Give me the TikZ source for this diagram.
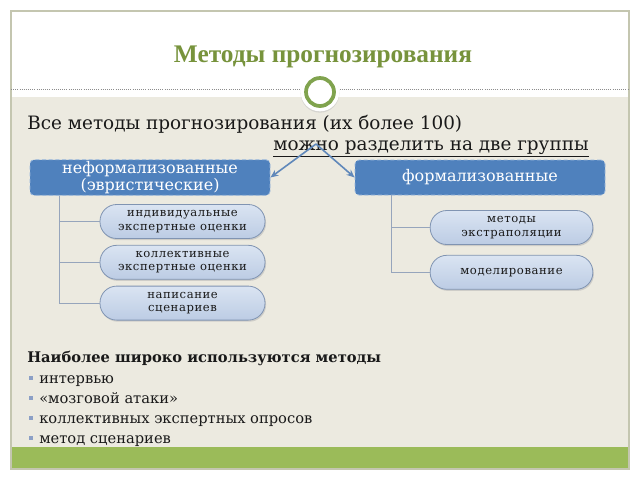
\documentclass[tikz,border=0pt]{standalone}
\usepackage{fontspec}
\setmainfont{DejaVu Serif}
\newfontfamily\titlefont{Liberation Serif}
\newfontfamily\pillfont[LetterSpace=5]{DejaVu Serif}
\usetikzlibrary{positioning, calc, shadows, arrows.meta}

\definecolor{SlideFrame}{RGB}{196,198,176}
\definecolor{SlideBeige}{RGB}{236,234,224}
\definecolor{SlideGreen}{RGB}{155,187,89}
\definecolor{TitleGreen}{RGB}{119,147,60}
\definecolor{RingGreen}{RGB}{128,163,78}
\definecolor{GroupBlue}{RGB}{79,129,189}
\definecolor{GroupEdge}{RGB}{150,182,220}
\definecolor{PillTop}{RGB}{218,228,242}
\definecolor{PillBottom}{RGB}{188,204,228}
\definecolor{PillEdge}{RGB}{128,148,178}
\definecolor{TreeGray}{RGB}{150,165,188}
\definecolor{ArrowBlue}{RGB}{96,136,186}
\definecolor{BulletBlue}{RGB}{140,160,198}
\definecolor{TextDark}{RGB}{25,25,25}

\tikzset{
  heading/.style={
    font=\titlefont\bfseries\fontsize{19}{22}\selectfont, text=TitleGreen
  },
  lead/.style={
    font=\fontsize{13.8}{16}\selectfont, text=TextDark, inner sep=0pt
  },
  group/.style={
    rectangle, rounded corners=3pt,
    minimum height=26.25pt, inner sep=1pt,
    fill=GroupBlue, draw=GroupEdge, densely dashed, line width=0.6pt,
    font=\fontsize{12}{13}\selectfont, text=white
  },
  pill/.style={
    rectangle, rounded corners=12.5pt,
    minimum width=123.75pt, minimum height=25.5pt, inner sep=1pt,
    draw=PillEdge, line width=0.6pt,
    top color=PillTop, bottom color=PillBottom,
    font=\pillfont\fontsize{8.7}{10.2}\selectfont, text=TextDark,
    drop shadow={shadow xshift=0.8pt, shadow yshift=-1.2pt, fill=black!30}
  },
  tree/.style={draw=TreeGray, line width=0.9pt},
  split/.style={-{Stealth[length=6pt, width=5pt]}, draw=ArrowBlue, line width=1.2pt},
  listhead/.style={font=\bfseries\fontsize{11}{12}\selectfont, text=TextDark, inner sep=0pt},
  item/.style={font=\fontsize{11}{12}\selectfont, text=TextDark, inner sep=0pt},
  dot/.style={rectangle, fill=BulletBlue, minimum size=2.4pt, inner sep=0pt}
}

\begin{document}
\begin{tikzpicture}[x=0.75pt, y=-0.75pt, every node/.style={align=center}]
  \useasboundingbox (0,0) rectangle (640,480);

  % slide
  \fill[white] (0,0) rectangle (640,480);
  \fill[SlideBeige] (11,97) rectangle (629,447);
  \fill[SlideGreen] (11,447) rectangle (629,469);
  \draw[SlideFrame, line width=0.8pt] (11,11) rectangle (629,469);
  \draw[black!45, densely dotted, line width=0.6pt] (11,89) -- (629,89);

  % title and ring
  \node[heading] (ttl) at (323,57) {Методы прогнозирования};
  \fill[white, drop shadow={shadow xshift=0pt, shadow yshift=-1pt, fill=black!25}]
    (320,92) circle (14.5pt);
  \draw[RingGreen, line width=2.8pt] (320,92) circle (10.5pt);

  % lead text
  \node[lead, anchor=base west] (lead1) at (27,129) {Все методы прогнозирования (их более 100)};
  \node[lead, anchor=base east] (lead2) at (589,150) {\underline{можно разделить на две группы}};

  % two groups
  \node[group, minimum width=180pt] (nf) at (150,177.5) {неформализованные\\(эвристические)};
  \node[group, minimum width=187.5pt] (fm) at (480,177.5) {формализованные};

  \coordinate (fork) at (316,144);
  \draw[split] (fork) -- (nf.east);
  \draw[split] (fork) -- (fm.west);

  % informal methods
  \node[pill] (ind) at (182.5,221.5) {индивидуальные\\экспертные оценки};
  \node[pill, below=4.5pt of ind] (col) {коллективные\\экспертные оценки};
  \node[pill, below=4.5pt of col] (scn) {написание\\сценариев};

  \draw[tree] ($(nf.south west)+(30,0)$) |- (ind.west);
  \draw[tree] ($(nf.south west)+(30,0)$) |- (col.west);
  \draw[tree] ($(nf.south west)+(30,0)$) |- (scn.west);

  % formal methods
  \node[pill, minimum width=122pt] (ext) at (511.5,227.5) {методы\\экстраполяции};
  \node[pill, minimum width=122pt, below=7.5pt of ext] (mod) {моделирование};

  \draw[tree] ($(fm.south west)+(37,0)$) |- (ext.west);
  \draw[tree] ($(fm.south west)+(37,0)$) |- (mod.west);

  % most used
  \node[listhead, anchor=base west] (most) at (27,362) {Наиболее широко используются методы};
  \node[dot] (d1) at (31,378) {};
  \node[dot] (d2) at (31,398) {};
  \node[dot] (d3) at (31,418) {};
  \node[dot] (d4) at (31,438) {};
  \node[item, anchor=base west] (m1) at (39,383) {интервью};
  \node[item, anchor=base west] (m2) at (39,403) {«мозговой атаки»};
  \node[item, anchor=base west] (m3) at (39,423) {коллективных экспертных опросов};
  \node[item, anchor=base west] (m4) at (39,443) {метод сценариев};
\end{tikzpicture}
\end{document}
